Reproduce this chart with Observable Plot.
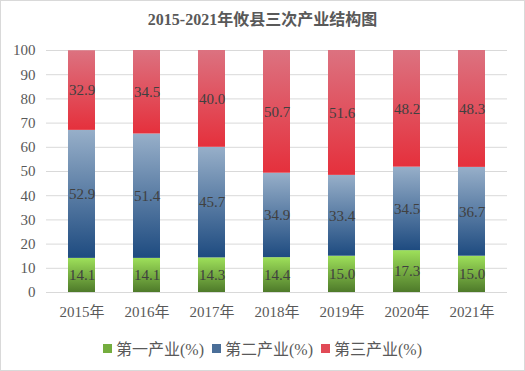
<!DOCTYPE html>
<html>
<head>
<meta charset="utf-8">
<script src="https://cdn.jsdelivr.net/npm/d3@7"></script>
<script src="https://cdn.jsdelivr.net/npm/@observablehq/plot@0.6"></script>
<style>
  html, body { margin: 0; padding: 0; background: #fff; }
  #wrap { width: 523px; height: 369px; border: 1px solid #d9d9d9; position: relative; overflow: hidden; }
  #title { height: 36px; line-height: 38px; text-align: center; font-family: "Liberation Serif", "Noto Sans CJK SC", serif; font-weight: bold; font-size: 16px; color: #595959; }
  #legend { display: flex; justify-content: center; align-items: center; gap: 8px; margin-top: 9px; font-family: "Liberation Serif", "Noto Sans CJK SC", serif; font-size: 16px; color: #595959; }
  .item { display: flex; align-items: center; gap: 4px; }
  .sw { width: 9px; height: 9px; display: inline-block; }
</style>
</head>
<body>
<div id="wrap">
  <div id="title">2015-2021年攸县三次产业结构图</div>
  <div id="chart"></div>
  <div id="legend"></div>
</div>
<script>
const years = ["2015年", "2016年", "2017年", "2018年", "2019年", "2020年", "2021年"];
const seriesNames = ["第一产业(%)", "第二产业(%)", "第三产业(%)"];
const primary = [14.1, 14.1, 14.3, 14.4, 15.0, 17.3, 15.0];
const secondary = [52.9, 51.4, 45.7, 34.9, 33.4, 34.5, 36.7];
const tertiary = [32.9, 34.5, 40.0, 50.7, 51.6, 48.2, 48.3];
const yTicks = [0, 10, 20, 30, 40, 50, 60, 70, 80, 90, 100];

const gradients = [
  {id: "gGreen", top: "#9ee05a", bottom: "#4e7a2a"},
  {id: "gBlue", top: "#97afc9", bottom: "#1e4b80"},
  {id: "gRed", top: "#dc7280", bottom: "#e5303c"}
];

const seriesValues = [primary, secondary, tertiary];
const data = [];
seriesNames.forEach((s, si) => {
  years.forEach((y, i) => data.push({year: y, series: s, value: seriesValues[si][i]}));
});

const font = '"Liberation Serif", "Noto Sans CJK SC", serif';

const defs = () => {
  const d = d3.create("svg:defs");
  gradients.forEach(g => {
    const lg = d.append("linearGradient").attr("id", g.id).attr("x1", 0).attr("y1", 0).attr("x2", 0).attr("y2", 1);
    lg.append("stop").attr("offset", "0%").attr("stop-color", g.top);
    lg.append("stop").attr("offset", "100%").attr("stop-color", g.bottom);
  });
  return d.node();
};

const plot = Plot.plot({
  width: 523,
  height: 290,
  marginTop: 13,
  marginBottom: 35,
  marginLeft: 45,
  marginRight: 17,
  style: {fontFamily: font, fontSize: "15px", color: "#595959", background: "transparent"},
  x: {domain: years, paddingInner: 0.59, paddingOuter: 0.295, label: null, tickSize: 0, tickPadding: 14},
  y: {domain: [0, 100], ticks: yTicks, label: null, tickSize: 0, tickPadding: 11},
  color: {domain: seriesNames, range: gradients.map(g => `url(#${g.id})`)},
  marks: [
    defs,
    Plot.gridY(yTicks, {stroke: "#d9d9d9", strokeOpacity: 1}),
    Plot.barY(data, Plot.stackY({x: "year", y: "value", fill: "series"})),
    Plot.text(data, Plot.stackY({x: "year", y: "value", z: "series", text: d => d.value.toFixed(1), fill: "#404040", fontSize: 15, fontFamily: font}))
  ]
});
document.getElementById("chart").appendChild(plot);

const legendColors = ["#74ad3e", "#4a6e98", "#e14a56"];
const legend = document.getElementById("legend");
seriesNames.forEach((s, i) => {
  const it = document.createElement("div");
  it.className = "item";
  it.innerHTML = `<span class="sw" style="background:${legendColors[i]}"></span><span>${s}</span>`;
  legend.appendChild(it);
});
</script>
</body>
</html>
